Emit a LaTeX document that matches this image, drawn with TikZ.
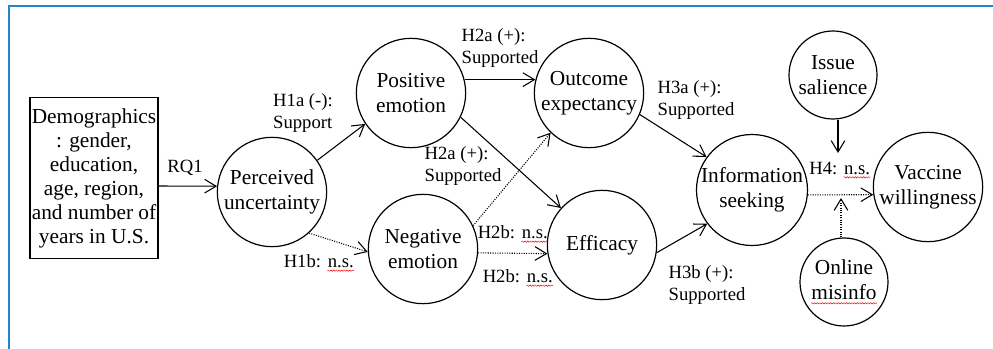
\documentclass[tikz,border=0pt]{standalone}
\usepackage{fontspec}
\setmainfont{Liberation Serif}
\usetikzlibrary{arrows.meta,decorations.pathmorphing}
\definecolor{framecol}{RGB}{33,134,199}
\newcommand\spellmark[1]{\tikz[baseline=(sw.base)]{\node[shape=rectangle, draw=none, minimum size=0pt, inner sep=0pt] (sw) {#1};
  \draw[red, line width=0.35pt, solid, decorate, decoration={snake, amplitude=0.5pt, segment length=2pt}]
    ([yshift=-2.5pt]sw.base west) -- ([yshift=-2.5pt]sw.base east);}}

\begin{document}
\begin{tikzpicture}[
    x=0.75pt, y=-0.75pt,
    var/.style={circle, draw, line width=0.9pt, minimum size=82pt, inner sep=0pt, align=center, font=\fontsize{16}{19}\selectfont},
    lbl/.style={align=left, inner sep=1pt, font=\fontsize{14}{16}\selectfont},
    sig/.style={draw, line width=0.8pt, -{Straight Barb[length=3mm,width=3.6mm]}},
    nonsig/.style={sig, densely dotted}
]
\useasboundingbox (0,0) rectangle (993,349);
\draw[framecol, line width=2.2pt] (9,349) -- (9,6) -- (993,6);

% constructs
\node[draw, line width=0.9pt, minimum width=96pt, minimum height=121pt, inner xsep=1pt, align=center,
      font=\fontsize{16}{18}\selectfont] (demo) at (94,178)
      {Demographics\\: gender,\\education,\\age, region,\\and number of\\years in U.S.};
\node[var] (pu) at (272,192) {Perceived\\uncertainty};
\node[var] (pos) at (411,93) {Positive\\emotion};
\node[var] (oe) at (589,93) {Outcome\\expectancy};
\node[var] (neg) at (423,249) {Negative\\emotion};
\node[var] (eff) at (602,245) {Efficacy};
\node[var] (info) at (752,190) {Information\\seeking};
\node[var] (vac) at (928,187) {Vaccine\\willingness};
\node[var, minimum size=66pt] (iss) at (833,75) {Issue\\salience};
\node[var, minimum size=66pt] (mis) at (844,282) {Online\\\spellmark{misinfo}};

\coordinate (salin) at (838,153);
\coordinate (misin) at (841,198);

% paths
\draw[sig] ([yshift=-6pt]demo.east) -- (pu.174);
\draw[sig] (pu.35) -- (pos.214);
\draw[nonsig] (pu.-48) -- (neg.183);
\draw[sig] (pos.14) -- (oe.166);
\draw[sig] (pos.-26) -- (eff.138);
\draw[nonsig] (neg.25) -- (oe.226);
\draw[nonsig] (neg.-4) -- (eff.-171);
\draw[sig] (oe.-23) -- (info.144);
\draw[sig] (eff.-8) -- (info.217);
\draw[nonsig] (info.-5) -- (vac.-172);
\draw[sig] (iss.south -| salin) -- (salin);
\draw[nonsig] (mis.north -| misin) -- (misin);

% hypothesis labels
\node[lbl] (rq1) at (185,168) {RQ1};
\node[lbl] (h1a) at (303,113) {H1a (-):\\Support};
\node[lbl] (h1b) at (319,263) {H1b: \spellmark{n.s.}};
\node[lbl] (h2at) at (500,48) {H2a (+):\\Supported};
\node[lbl] (h2am) at (463,166) {H2a (+):\\Supported};
\node[lbl] (h2bu) at (513,234) {H2b: \spellmark{n.s.}};
\node[lbl] (h2bl) at (518,278) {H2b: \spellmark{n.s.}};
\node[lbl] (h3a) at (696,100) {H3a (+):\\Supported};
\node[lbl] (h3b) at (707,285) {H3b (+):\\Supported};
\node[lbl] (h4) at (840,170) {H4: \spellmark{n.s.}};
\end{tikzpicture}
\end{document}
